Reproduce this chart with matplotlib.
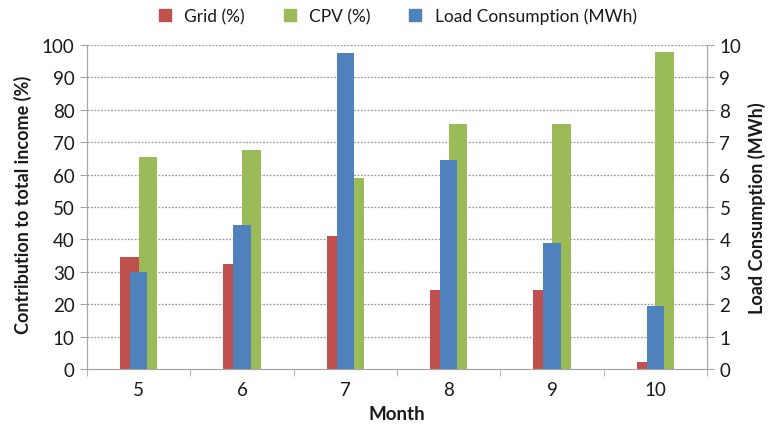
import matplotlib
matplotlib.use("Agg")
import matplotlib.pyplot as plt
from matplotlib.lines import Line2D
import numpy as np

plt.rcParams['font.family'] = ['Lato', 'DejaVu Sans']

months = ['5', '6', '7', '8', '9', '10']
grid_pct = [34.5, 32.5, 41.0, 24.5, 24.3, 2.3]
cpv_pct = [65.5, 67.5, 59.0, 75.5, 75.7, 97.7]
load_mwh = [3.0, 4.45, 9.75, 6.45, 3.9, 1.95]

c_grid = '#C0504D'
c_cpv = '#9BBB59'
c_load = '#4F81BD'
gray = '#A6A6A6'
txt = '#1a1a1a'

fig = plt.figure(figsize=(7.71, 4.27), dpi=100)
ax = fig.add_axes([87/771, 1 - 370/427, 620/771, 324/427])
x = np.arange(len(months))
w = 0.18
ax.bar(x - w/2, grid_pct, w, color=c_grid, zorder=2)
ax.bar(x + w/2, cpv_pct, w, color=c_cpv, zorder=2)
ax.set_xlim(-0.5, len(months) - 0.5)
ax.set_ylim(0, 100)
ax.set_yticks(range(0, 101, 10))
for yv in range(10, 101, 10):
    ax.axhline(yv, color='#9A9A9A', lw=0.9, ls=(0, (1.5, 1.2)), zorder=1)

ax2 = ax.twinx()
ax2.bar(x, load_mwh, 0.17, color=c_load, zorder=3)
ax2.set_ylim(0, 10)
ax2.set_yticks(range(0, 11, 1))

ax.set_xticks(x)
ax.set_xticklabels(months)
ax.set_xticks(np.arange(-0.5, len(months), 1.0), minor=True)
ax.tick_params(axis='x', which='major', length=0, labelsize=13.5, pad=9, colors=txt)
ax.tick_params(axis='x', which='minor', length=5, color=gray, direction='out')
ax.tick_params(axis='y', length=5, color=gray, labelsize=13.5, colors=txt, pad=4)
ax2.tick_params(axis='y', length=5, color=gray, labelsize=13.5, colors=txt, pad=4)
for a in (ax, ax2):
    for s in a.spines.values():
        s.set_color(gray)
    a.spines['top'].set_visible(False)
ax.set_ylabel('Contribution to total income (%)', fontsize=13, fontweight='bold', color=txt)
ax.yaxis.set_label_coords(-0.088, 0.51)
ax2.set_ylabel('Load Consumption (MWh)', fontsize=13, fontweight='bold', color=txt)
ax2.yaxis.set_label_coords(1.066, 0.5)
ax.set_xlabel('Month', fontsize=13.5, fontweight='bold', labelpad=5, color=txt)

handles = [Line2D([], [], marker='s', ls='', color=c, markersize=8) for c in (c_grid, c_cpv, c_load)]
fig.legend(handles, ['Grid (%)', 'CPV (%)', 'Load Consumption (MWh)'], loc='center',
           bbox_to_anchor=(392/771, 1 - 17/427), ncol=3, frameon=False, fontsize=12.5,
           handletextpad=0.1, columnspacing=1.6, labelcolor=txt)

fig.savefig('out.png', dpi=100)
